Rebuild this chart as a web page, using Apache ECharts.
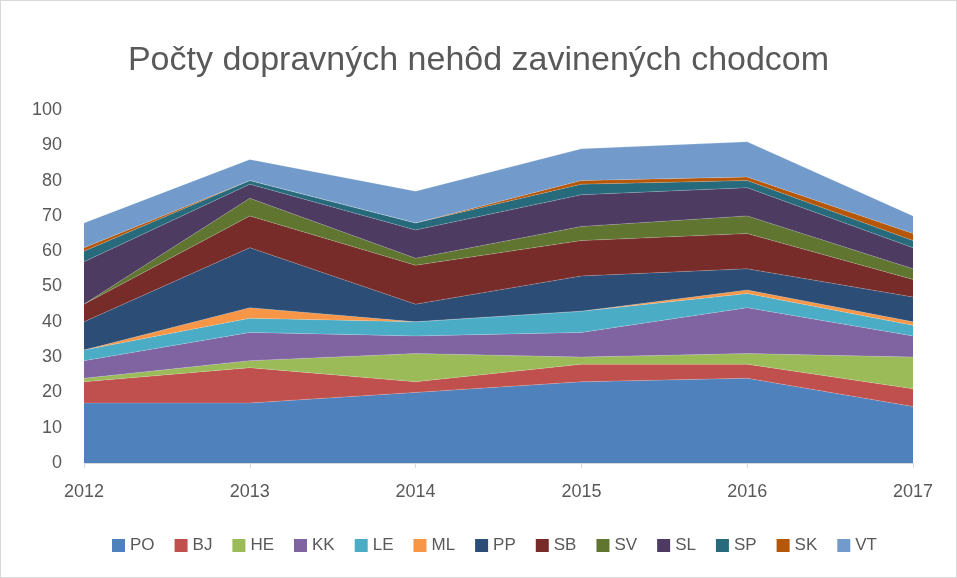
<!DOCTYPE html>
<html>
<head>
<meta charset="utf-8">
<script src="https://cdn.jsdelivr.net/npm/echarts@6/dist/echarts.min.js"></script>
<style>
  html, body { margin: 0; padding: 0; background: #fff; }
  #chart { width: 955px; height: 576px; border: 1px solid #d9d9d9; }
</style>
</head>
<body>
<div id="chart"></div>
<script>
// roky
const years = ['2012', '2013', '2014', '2015', '2016', '2017'];

// počty nehôd podľa okresov (odčítané z grafu)
const PO = [17, 17, 20, 23, 24, 16];
const BJ = [6, 10, 3, 5, 4, 5];
const HE = [1, 2, 8, 2, 3, 9];
const KK = [5, 8, 5, 7, 13, 6];
const LE = [3, 4, 4, 6, 4, 3];
const ML = [0, 3, 0, 0, 1, 1];
const PP = [8, 17, 5, 10, 6, 7];
const SB = [5, 9, 11, 10, 10, 5];
const SV = [0, 5, 2, 4, 5, 3];
const SL = [12, 4, 8, 9, 8, 6];
const SP = [3, 1, 2, 3, 2, 2];
const SK = [1, 0, 0, 1, 1, 2];
const VT = [7, 6, 9, 9, 10, 5];

const seriesList = [
  ['PO', PO, '#4f81bd'],
  ['BJ', BJ, '#c0504d'],
  ['HE', HE, '#9bbb59'],
  ['KK', KK, '#8064a2'],
  ['LE', LE, '#4bacc6'],
  ['ML', ML, '#f79646'],
  ['PP', PP, '#2c4d75'],
  ['SB', SB, '#772c2a'],
  ['SV', SV, '#5f7530'],
  ['SL', SL, '#4d3b62'],
  ['SP', SP, '#276a7c'],
  ['SK', SK, '#b65708'],
  ['VT', VT, '#729aca']
];

const font = 'Liberation Sans, Arial, sans-serif';
const chart = echarts.init(document.getElementById('chart'));

chart.setOption({
  animation: false,
  textStyle: { fontFamily: font },
  title: {
    text: 'Počty dopravných nehôd zavinených chodcom',
    left: 'center',
    top: 38,
    textStyle: { fontSize: 34, fontWeight: 'normal', color: '#595959', fontFamily: font }
  },
  legend: {
    bottom: 18,
    left: 106,
    icon: 'rect',
    itemWidth: 13,
    itemHeight: 13,
    itemGap: 20,
    textStyle: { fontSize: 17, color: '#595959' },
    data: seriesList.map(s => s[0])
  },
  grid: { left: 83, right: 43, top: 109, bottom: 114 },
  xAxis: {
    type: 'category',
    boundaryGap: false,
    data: years,
    axisLine: { lineStyle: { color: '#d9d9d9' } },
    axisTick: { show: true, length: 5, lineStyle: { color: '#d9d9d9' } },
    axisLabel: { fontSize: 18, color: '#595959', margin: 20 }
  },
  yAxis: {
    type: 'value',
    min: 0,
    max: 100,
    interval: 10,
    axisLine: { show: false },
    axisTick: { show: false },
    splitLine: { show: false },
    axisLabel: { fontSize: 18, color: '#595959', margin: 22 }
  },
  series: seriesList.map(s => ({
    name: s[0],
    type: 'line',
    stack: 'total',
    data: s[1],
    symbol: 'none',
    color: s[2],
    lineStyle: { width: 0.5, color: 'rgba(255,255,255,0.35)' },
    areaStyle: { color: s[2], opacity: 1 }
  }))
});
</script>
</body>
</html>
